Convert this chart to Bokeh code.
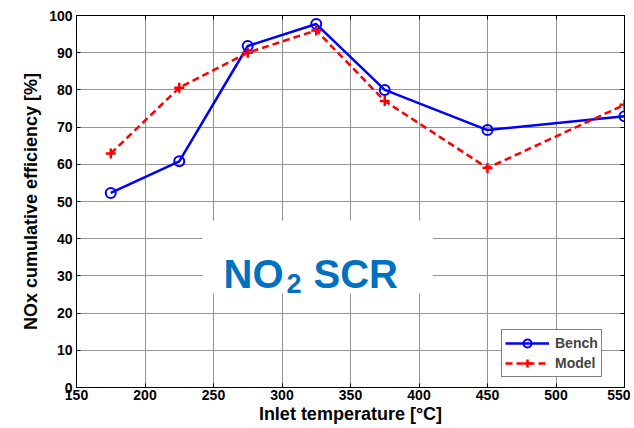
from bokeh.plotting import figure
from bokeh.models import Range1d, LinearAxis, FixedTicker, Legend, LegendItem, BoxAnnotation, Label
from bokeh.embed import file_html
from bokeh.resources import INLINE

temps = [175, 225, 275, 325, 375, 450, 550]
bench = [52.3, 60.8, 91.8, 97.7, 80.0, 69.2, 72.9]
model = [62.9, 80.6, 90.0, 96.0, 77.0, 59.0, 76.0]
x_ticks = [150, 200, 250, 300, 350, 400, 450, 500, 550]
y_ticks = [0, 10, 20, 30, 40, 50, 60, 70, 80, 90, 100]

FONT = "Liberation Sans"

p = figure(frame_width=548, frame_height=372, output_backend="svg", toolbar_location=None,
           x_range=Range1d(150, 550), y_range=Range1d(0, 100),
           min_border_left=76, min_border_right=6, min_border_top=15, min_border_bottom=40)
p.outline_line_color = "black"
p.outline_line_width = 1

for ax in (p.xaxis[0], p.yaxis[0]):
    ax.major_tick_in = 4
    ax.major_tick_out = 0
    ax.minor_tick_in = 0
    ax.minor_tick_out = 0
    ax.axis_line_color = "black"
    ax.major_label_text_font = FONT
    ax.major_label_text_font_style = "bold"
    ax.major_label_text_font_size = "14px"
    ax.major_label_text_color = "black"
    ax.axis_label_text_font = FONT
    ax.axis_label_text_font_style = "bold"
    ax.axis_label_text_font_size = "18px"
    ax.axis_label_text_color = "black"

p.xaxis[0].ticker = FixedTicker(ticks=x_ticks)
p.yaxis[0].ticker = FixedTicker(ticks=y_ticks)
p.xaxis[0].axis_label = "Inlet temperature [°C]"
p.yaxis[0].axis_label = "NOx cumulative efficiency [%]"
p.xaxis[0].major_label_standoff = 2
p.xaxis[0].axis_label_standoff = 1
p.yaxis[0].major_label_standoff = 4
p.yaxis[0].axis_label_standoff = 5

for side, tk in (("above", x_ticks), ("right", y_ticks)):
    a = LinearAxis(ticker=FixedTicker(ticks=tk), major_tick_in=4, major_tick_out=0,
                   minor_tick_in=0, minor_tick_out=0,
                   major_label_overrides={t: "" for t in tk},
                   major_label_standoff=0, axis_line_color="black")
    p.add_layout(a, side)

p.xgrid.ticker = FixedTicker(ticks=x_ticks)
p.ygrid.ticker = FixedTicker(ticks=y_ticks)
p.grid.grid_line_color = "#949494"
p.grid.grid_line_width = 1

# white box behind the annotation
p.add_layout(BoxAnnotation(left=242, right=410, bottom=25.3, top=44.9,
                           fill_color="white", fill_alpha=1.0, line_alpha=0, level="underlay"))

bl = p.line(temps, bench, line_color="#0000ff", line_width=2.5)
bm = p.scatter(temps, bench, marker="circle", size=10, line_color="#0000ff", line_width=2,
               fill_color=None)
ml = p.line(temps, model, line_color="#ff0000", line_width=2.5, line_dash="7 4")
mm = p.scatter(temps, model, marker="cross", size=10, line_color="#ff0000", line_width=2.5)

legend = Legend(items=[LegendItem(label="Bench", renderers=[bl, bm]),
                       LegendItem(label="Model", renderers=[ml, mm])],
                location=(425, 10), glyph_width=44, glyph_height=20, label_height=20,
                label_standoff=6, padding=3, spacing=0, margin=0,
                border_line_color="black", border_line_width=1.2,
                label_text_font=FONT, label_text_font_style="bold", label_text_font_size="14px")
p.add_layout(legend, "center")

blue = "#0070c0"
p.add_layout(Label(x=257.3, y=30.6, text="NO",
                   text_font=FONT, text_font_style="bold", text_font_size="40px",
                   text_color=blue, text_baseline="alphabetic", text_align="left"))
p.add_layout(Label(x=303.3, y=28.0, text="2",
                   text_font=FONT, text_font_style="bold", text_font_size="27px",
                   text_color=blue, text_baseline="alphabetic", text_align="left"))
p.add_layout(Label(x=323.0, y=30.6, text="SCR",
                   text_font=FONT, text_font_style="bold", text_font_size="40px",
                   text_color=blue, text_baseline="alphabetic", text_align="left"))

open("out.html", "w").write(file_html(p, INLINE))
